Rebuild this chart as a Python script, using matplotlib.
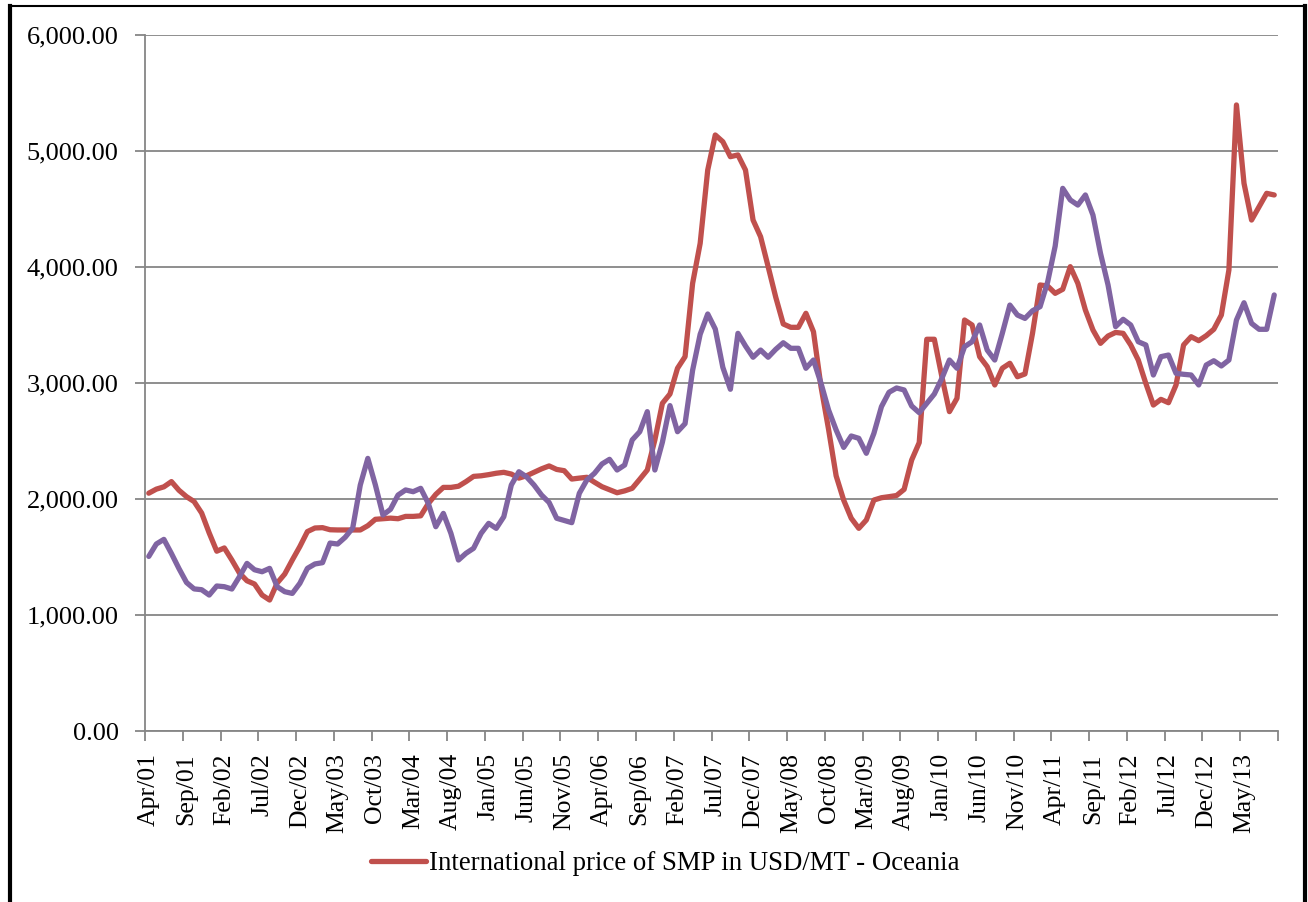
import matplotlib
matplotlib.use("Agg")
import matplotlib.pyplot as plt
from matplotlib.lines import Line2D
from matplotlib.ticker import FuncFormatter, FixedLocator

# monthly series, Apr/01 .. Sep/13 (150 months)
smp_oceania = [
    2050, 2085, 2105, 2150, 2075, 2020, 1978, 1879, 1707, 1550,
    1578, 1474, 1362, 1295, 1267, 1172, 1129, 1276, 1353, 1474,
    1590, 1719, 1750, 1753, 1735, 1733, 1733, 1733, 1733, 1770,
    1825, 1830, 1835, 1830, 1850, 1850, 1855, 1960, 2040, 2100,
    2100, 2110, 2150, 2195, 2200, 2210, 2222, 2230, 2215, 2180,
    2200, 2230, 2260, 2285, 2255, 2244, 2172, 2180, 2187, 2145,
    2106, 2080, 2054, 2070, 2092, 2170, 2250, 2509, 2825, 2905,
    3127, 3227, 3859, 4204, 4836, 5138, 5080, 4951, 4966, 4836,
    4405, 4261, 4003, 3741, 3509, 3480, 3480, 3601, 3442, 2968,
    2600, 2200, 1990, 1834, 1747, 1819, 1991, 2011, 2020, 2030,
    2083, 2336, 2486, 3377, 3377, 3054, 2753, 2868, 3543, 3500,
    3227, 3141, 2983, 3127, 3170, 3054, 3078, 3428, 3845, 3836,
    3773, 3808, 4003, 3859, 3629, 3457, 3342, 3405, 3436, 3428,
    3328, 3198, 2997, 2810, 2859, 2830, 2983, 3328, 3399, 3365,
    3408, 3463, 3586, 3974, 5397, 4721, 4405, 4520, 4635, 4621,
]

second_series = [
    1505, 1612, 1652, 1530, 1400, 1280, 1225, 1218, 1172, 1250,
    1244, 1224, 1330, 1445, 1390, 1373, 1402, 1244, 1201, 1186,
    1273, 1402, 1440, 1451, 1620, 1612, 1670, 1750, 2120, 2350,
    2121, 1862, 1911, 2034, 2078, 2063, 2092, 1963, 1761, 1876,
    1704, 1474, 1532, 1575, 1704, 1790, 1747, 1847, 2121, 2235,
    2192, 2121, 2034, 1970, 1834, 1815, 1796, 2049, 2164, 2221,
    2302, 2342, 2250, 2293, 2509, 2580, 2753, 2250, 2490, 2805,
    2580, 2650, 3110, 3420, 3595, 3465, 3135, 2946, 3428, 3319,
    3222, 3284, 3222, 3290, 3347, 3299, 3299, 3127, 3198, 2997,
    2767, 2595, 2445, 2543, 2523, 2394, 2566, 2796, 2920, 2957,
    2940, 2802, 2744, 2825, 2905, 3040, 3198, 3127, 3313, 3356,
    3500, 3284, 3198, 3428, 3672, 3586, 3557, 3623, 3658, 3870,
    4180, 4678, 4578, 4534, 4621, 4448, 4118, 3845, 3486, 3549,
    3500, 3356, 3328, 3069, 3227, 3241, 3083, 3075, 3069, 2983,
    3155, 3192, 3147, 3198, 3543, 3692, 3514, 3463, 3463, 3759,
]

tick_labels = [
    "Apr/01", "Sep/01", "Feb/02", "Jul/02", "Dec/02", "May/03", "Oct/03",
    "Mar/04", "Aug/04", "Jan/05", "Jun/05", "Nov/05", "Apr/06", "Sep/06",
    "Feb/07", "Jul/07", "Dec/07", "May/08", "Oct/08", "Mar/09", "Aug/09",
    "Jan/10", "Jun/10", "Nov/10", "Apr/11", "Sep/11", "Feb/12", "Jul/12",
    "Dec/12", "May/13",
]

legend_label = "International price of SMP in USD/MT - Oceania"

RED = "#C0504D"
PURPLE = "#8064A2"
GREY = "#868686"

plt.rcParams["font.family"] = ["Liberation Serif", "DejaVu Serif"]

W, H = 1308, 902
fig = plt.figure(figsize=(W / 100, H / 100), dpi=100)
ax = fig.add_axes([145 / W, 1 - 731 / H, (1278 - 145) / W, (731 - 35) / H])

n = len(smp_oceania)
x = list(range(n))
ax.plot(x, smp_oceania, color=RED, lw=3.8, solid_joinstyle="round",
        solid_capstyle="round", label=legend_label, zorder=3)
ax.plot(x, second_series, color=PURPLE, lw=3.8, solid_joinstyle="round",
        solid_capstyle="round", label="_nolegend_", zorder=3)

# y axis
ax.set_ylim(0, 6000)
ax.set_yticks(range(0, 6001, 1000))
ax.yaxis.set_major_formatter(FuncFormatter(lambda v, p: f"{v:,.2f}"))
ax.grid(axis="y", color=GREY, lw=1.3)
ax.set_axisbelow(True)

# x axis: tick marks on category boundaries, labels on categories
ax.set_xlim(-0.5, n - 0.5)
ax.xaxis.set_major_locator(FixedLocator([k - 0.5 for k in range(0, n + 1, 5)]))
ax.xaxis.set_major_formatter(FuncFormatter(lambda v, p: ""))
ax.xaxis.set_minor_locator(FixedLocator(list(range(0, n, 5))))
ax.set_xticklabels(tick_labels, minor=True, rotation=90, fontsize=18.5)
ax.tick_params(axis="x", which="major", length=7, width=1.3, color=GREY)
ax.tick_params(axis="x", which="minor", length=0, pad=16)
ax.tick_params(axis="y", length=7, width=1.3, color=GREY, pad=12, labelsize=19)

for side in ["top", "right"]:
    ax.spines[side].set_visible(False)
for side in ["left", "bottom"]:
    ax.spines[side].set_color(GREY)
    ax.spines[side].set_linewidth(1.3)

# legend below the plot, only the red series
ax.legend(loc="center left", bbox_to_anchor=(371 / W, 1 - 864 / H),
          bbox_transform=fig.transFigure, frameon=False, fontsize=19.3,
          handlelength=2.05, handletextpad=0.1, borderpad=0, borderaxespad=0)

# outer frame
fig.add_artist(Line2D([10 / W, 10 / W], [0, 1 - 6 / H], color="black", lw=3))
fig.add_artist(Line2D([1305 / W, 1305 / W], [0, 1 - 6 / H], color="black", lw=3))
fig.add_artist(Line2D([10 / W, 1305 / W], [1 - 6 / H, 1 - 6 / H], color="black", lw=1.5))

fig.savefig("out.png", dpi=100)
